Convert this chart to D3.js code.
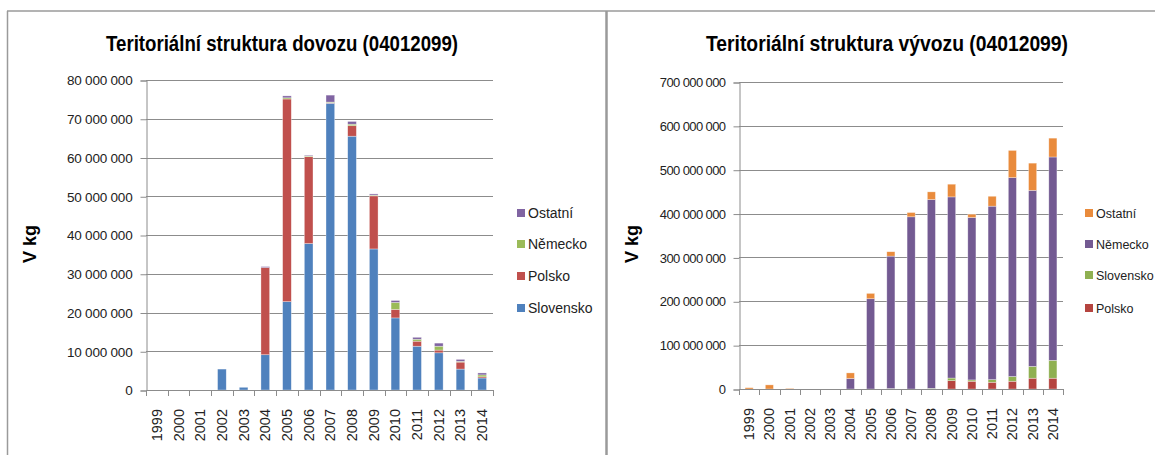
<!DOCTYPE html>
<html>
<head>
<meta charset="utf-8">
<script src="https://cdn.jsdelivr.net/npm/d3@7.9.0/dist/d3.min.js"></script>
<style>
  body { margin: 0; background: #fff; }
  svg text { font-family: "Liberation Sans", Arial, sans-serif; fill: #222; }
  .title { font-weight: bold; fill: #000; }
  .grid line { stroke: #8c8c8c; }
</style>
</head>
<body>
<svg id="chart" width="1155" height="455"></svg>
<script>
// years on the x axis
const years = ['1999','2000','2001','2002','2003','2004','2005','2006','2007','2008','2009','2010','2011','2012','2013','2014'];

// dovoz (import), kg
const dovozSlovensko = [0,0,0,5400000,700000,9100000,22800000,37800000,74000000,65500000,36400000,18600000,11300000,9600000,5400000,3100000];
const dovozPolsko    = [0,0,0,0,0,22500000,52300000,22400000,100000,2700000,13700000,2200000,1300000,700000,1800000,300000];
const dovozNemecko   = [0,0,0,0,0,0,300000,200000,200000,400000,200000,1800000,500000,1000000,200000,500000];
const dovozOstatni   = [0,0,0,0,0,250000,500000,200000,1800000,700000,300000,500000,500000,800000,500000,500000];

// vývoz (export), kg
const vyvozPolsko    = [0,0,0,0,0,0,0,0,0,0,19000000,17700000,15400000,17700000,24600000,24600000];
const vyvozSlovensko = [0,0,0,0,0,0,0,1000000,0,1500000,6000000,3000000,6000000,10800000,27000000,40800000];
const vyvozNemecko   = [0,0,0,0,0,24000000,205800000,302000000,392600000,430500000,413000000,370300000,395500000,453500000,401400000,463600000];
const vyvozOstatni   = [3000000,9400000,1500000,0,0,12700000,12200000,10000000,9800000,17500000,29000000,7600000,22600000,62000000,62000000,43000000];

const dovozTicks = [0,10000000,20000000,30000000,40000000,50000000,60000000,70000000,80000000];
const vyvozTicks = [0,100000000,200000000,300000000,400000000,500000000,600000000,700000000];

const svg = d3.select('#chart');
const fmt = v => d3.format(',')(v).replace(/,/g, ' ');

// frame of the two table cells
const frame = svg.append('g').attr('stroke', '#9a9a9a').attr('fill', 'none');
frame.append('line').attr('x1', 7).attr('x2', 1155).attr('y1', 11).attr('y2', 11).attr('stroke-width', 1.5);
frame.append('line').attr('x1', 7.5).attr('x2', 7.5).attr('y1', 11).attr('y2', 455).attr('stroke-width', 1.5);
frame.append('line').attr('x1', 606.5).attr('x2', 606.5).attr('y1', 11).attr('y2', 455).attr('stroke-width', 2.5);

function drawChart(opt) {
  const g = svg.append('g');
  const x = d3.scaleBand().domain(years).range([opt.left, opt.right]).paddingInner(0.6).paddingOuter(0.3);
  const y = d3.scaleLinear().domain([0, opt.max]).range([opt.bottom, opt.top]);

  // title
  g.append('text').attr('class', 'title')
    .attr('x', opt.titleX).attr('y', 51)
    .attr('text-anchor', 'middle')
    .attr('font-size', 22)
    .attr('textLength', opt.titleW).attr('lengthAdjust', 'spacingAndGlyphs')
    .text(opt.title);

  // y axis title
  g.append('text').attr('class', 'title')
    .attr('transform', `translate(${opt.yTitleX},${opt.yTitleY}) rotate(-90)`)
    .attr('text-anchor', 'middle')
    .attr('font-size', 18)
    .text('V kg');

  // gridlines
  g.append('g').attr('class', 'grid')
    .selectAll('line').data(opt.ticks.filter(d => d > 0)).join('line')
    .attr('x1', opt.left).attr('x2', opt.right)
    .attr('y1', d => Math.round(y(d)) + 0.5).attr('y2', d => Math.round(y(d)) + 0.5);

  // y axis
  const yAxis = g.append('g')
    .attr('transform', `translate(${opt.left + 0.5},0.5)`)
    .call(d3.axisLeft(y).tickValues(opt.ticks).tickFormat(fmt).tickSize(6).tickPadding(8));
  yAxis.select('.domain').attr('stroke', '#8c8c8c');
  yAxis.selectAll('.tick line').attr('stroke', '#8c8c8c');
  yAxis.selectAll('.tick text').attr('font-size', opt.yFont).attr('fill', '#222')
    .attr('letter-spacing', opt.ySpacing);

  // stacked bars
  const rows = years.map((yr, i) => {
    const r = { year: yr };
    opt.series.forEach(s => { r[s.name] = s.values[i]; });
    return r;
  });
  const stack = d3.stack().keys(opt.series.map(s => s.name))(rows);
  const colors = d3.scaleOrdinal().domain(opt.series.map(s => s.name)).range(opt.series.map(s => s.color));

  g.append('g').selectAll('g').data(stack).join('g')
    .attr('fill', d => colors(d.key))
    .selectAll('rect').data(d => d.filter(p => p[1] > p[0])).join('rect')
    .attr('x', d => x(d.data.year))
    .attr('width', x.bandwidth())
    .attr('y', d => y(d[1]))
    .attr('height', d => y(d[0]) - y(d[1]))
    .attr('stroke', 'rgba(255,255,255,0.55)')
    .attr('stroke-width', 0.6);

  // x axis line and ticks between categories
  const xAxis = g.append('g');
  xAxis.append('line')
    .attr('x1', opt.left).attr('x2', opt.right)
    .attr('y1', opt.bottom + 0.5).attr('y2', opt.bottom + 0.5)
    .attr('stroke', '#8c8c8c');
  const step = (opt.right - opt.left) / years.length;
  xAxis.selectAll('line.tk').data(d3.range(years.length + 1)).join('line')
    .attr('class', 'tk')
    .attr('x1', i => Math.round(opt.left + i * step) + 0.5)
    .attr('x2', i => Math.round(opt.left + i * step) + 0.5)
    .attr('y1', opt.bottom).attr('y2', opt.bottom + 6)
    .attr('stroke', '#8c8c8c');
  xAxis.selectAll('text').data(years).join('text')
    .attr('transform', d => `translate(${x(d) + x.bandwidth() / 2 + 5},${opt.bottom + 19}) rotate(-90)`)
    .attr('text-anchor', 'end')
    .attr('font-size', 14.5)
    .text(d => d);

  // legend, top to bottom
  const leg = g.append('g');
  opt.legend.forEach((name, i) => {
    const s = opt.series.find(d => d.name === name);
    const ly = opt.legendY[i];
    leg.append('rect').attr('x', opt.legendX).attr('y', ly - 4).attr('width', 8).attr('height', 8).attr('fill', s.color);
    leg.append('text').attr('x', opt.legendX + 11).attr('y', ly + 5)
      .attr('font-size', opt.legendFont)
      .text(name);
  });
}

drawChart({
  title: 'Teritoriální struktura dovozu (04012099)',
  titleX: 282, titleW: 352,
  yTitleX: 36, yTitleY: 244,
  left: 146, right: 493, top: 80, bottom: 390,
  max: 80000000, ticks: dovozTicks, yFont: 13.5, ySpacing: -0.2,
  series: [
    { name: 'Slovensko', values: dovozSlovensko, color: '#4f81bd' },
    { name: 'Polsko', values: dovozPolsko, color: '#c0504d' },
    { name: 'Německo', values: dovozNemecko, color: '#9bbb59' },
    { name: 'Ostatní', values: dovozOstatni, color: '#8064a2' }
  ],
  legend: ['Ostatní', 'Německo', 'Polsko', 'Slovensko'],
  legendX: 517, legendY: [213, 244, 276, 308], legendFont: 14
});

drawChart({
  title: 'Teritoriální struktura vývozu (04012099)',
  titleX: 887, titleW: 362,
  yTitleX: 638, yTitleY: 244,
  left: 739, right: 1063, top: 82, bottom: 389,
  max: 700000000, ticks: vyvozTicks, yFont: 13, ySpacing: -0.6,
  series: [
    { name: 'Polsko', values: vyvozPolsko, color: '#b5443f' },
    { name: 'Slovensko', values: vyvozSlovensko, color: '#8fb051' },
    { name: 'Německo', values: vyvozNemecko, color: '#735a92' },
    { name: 'Ostatní', values: vyvozOstatni, color: '#e98b3c' }
  ],
  legend: ['Ostatní', 'Německo', 'Slovensko', 'Polsko'],
  legendX: 1085, legendY: [213, 244, 275, 308], legendFont: 12.5
});
</script>
</body>
</html>
